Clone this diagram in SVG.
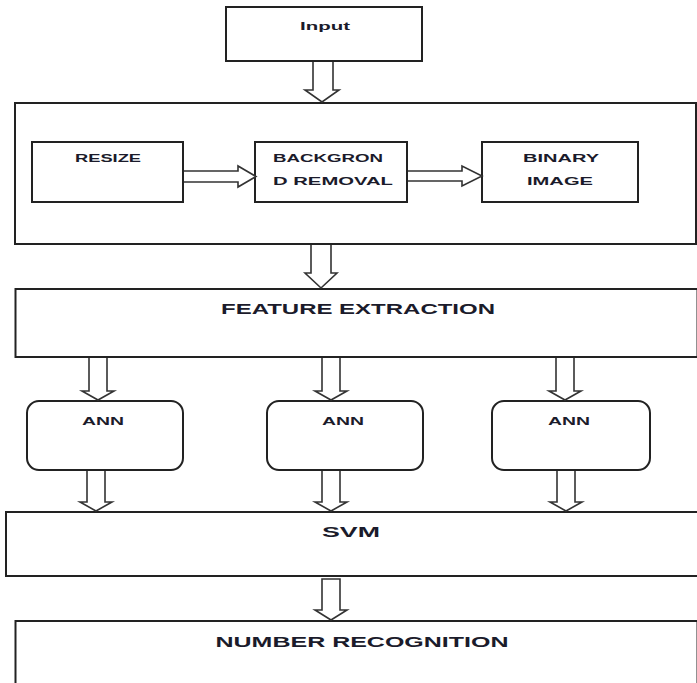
<svg xmlns="http://www.w3.org/2000/svg" width="697" height="683" viewBox="0 0 697 683">
<style>
.box{fill:#fff;stroke:#222;stroke-width:2}
.arr{fill:#fff;stroke:#333;stroke-width:1.6;stroke-linejoin:miter}
.t{font-family:"Liberation Sans",Arial,sans-serif;font-weight:bold;fill:#1b1b2b;text-anchor:middle}
.s{font-size:11px}
.l{font-size:15px}
</style>
<rect width="697" height="683" fill="#fff"/>
<g id="input">
<rect class="box" x="226" y="7" width="196" height="54"/>
<text class="t s" x="325" y="30" textLength="50" lengthAdjust="spacingAndGlyphs">Input</text>
</g>
<g id="preprocessing">
<rect class="box" x="15" y="103" width="681" height="141"/>
</g>
<g id="resize">
<rect class="box" x="32" y="142" width="151" height="60"/>
<text class="t s" x="108" y="162" textLength="66" lengthAdjust="spacingAndGlyphs">RESIZE</text>
</g>
<g id="background">
<rect class="box" x="255" y="142" width="152" height="60"/>
<text class="t s" x="273" y="162" style="text-anchor:start" textLength="110" lengthAdjust="spacingAndGlyphs">BACKGRON</text>
<text class="t s" x="273" y="185" style="text-anchor:start" textLength="120" lengthAdjust="spacingAndGlyphs">D REMOVAL</text>
</g>
<g id="binary">
<rect class="box" x="482" y="142" width="156" height="60"/>
<text class="t s" x="561" y="162" textLength="76" lengthAdjust="spacingAndGlyphs">BINARY</text>
<text class="t s" x="560" y="185" textLength="66" lengthAdjust="spacingAndGlyphs">IMAGE</text>
</g>
<g id="feature">
<rect class="box" x="15.5" y="289" width="682" height="68"/>
<text class="t l" x="358" y="314" textLength="274" lengthAdjust="spacingAndGlyphs">FEATURE EXTRACTION</text>
</g>
<g id="ann1">
<rect class="box" x="27" y="401" width="156" height="69" rx="12"/>
<text class="t s" x="103" y="425" textLength="42" lengthAdjust="spacingAndGlyphs">ANN</text>
</g>
<g id="ann2">
<rect class="box" x="267" y="401" width="156" height="69" rx="12"/>
<text class="t s" x="343" y="425" textLength="42" lengthAdjust="spacingAndGlyphs">ANN</text>
</g>
<g id="ann3">
<rect class="box" x="492" y="401" width="158" height="69" rx="12"/>
<text class="t s" x="569" y="425" textLength="42" lengthAdjust="spacingAndGlyphs">ANN</text>
</g>
<g id="svm">
<rect class="box" x="6" y="512" width="692" height="64"/>
<text class="t l" x="351" y="537" textLength="58" lengthAdjust="spacingAndGlyphs">SVM</text>
</g>
<g id="number">
<rect class="box" x="15.5" y="621" width="682" height="70"/>
<text class="t l" x="362" y="647" textLength="293" lengthAdjust="spacingAndGlyphs">NUMBER RECOGNITION</text>
</g>
<g id="connectors">
<path class="arr" d="M313 62 V90 H305 L322 102 L339 90 H333 V62"/>
<path class="arr" d="M184 171 H238 V166 L256 176.5 L238 187 V182 H184"/>
<path class="arr" d="M408 171 H462 V166 L482 176 L462 186 V181 H408"/>
<path class="arr" d="M311 245 V273 H305 L321 288 L337 273 H331 V245"/>
<path class="arr" d="M89 358 V391 H82 L98 400 L114 391 H107 V358"/>
<path class="arr" d="M322 358 V391 H315 L331 400 L347 391 H340 V358"/>
<path class="arr" d="M556 358 V391 H549 L565 400 L581 391 H574 V358"/>
<path class="arr" d="M87 471 V502 H80 L96 511 L112 502 H105 V471"/>
<path class="arr" d="M322 471 V502 H315 L331 511 L347 502 H340 V471"/>
<path class="arr" d="M557 471 V502 H550 L566 511 L582 502 H575 V471"/>
<path class="arr" d="M322 579 H340 V610 H347 L331 620 L315 610 H322 Z"/>
</g>
</svg>
